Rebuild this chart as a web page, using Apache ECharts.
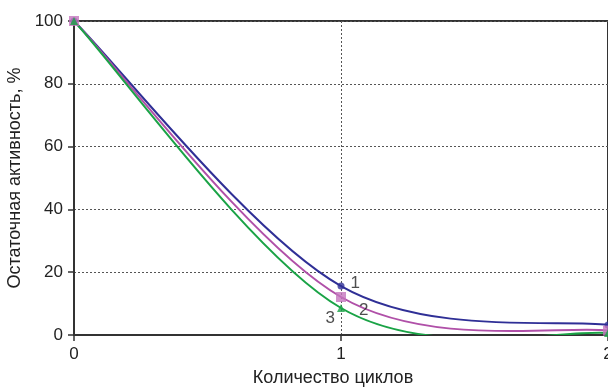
<!DOCTYPE html>
<html><head><meta charset="utf-8">
<script src="https://cdn.jsdelivr.net/npm/echarts@6/dist/echarts.min.js"></script>
<style>html,body{margin:0;padding:0;background:#fff}#c{width:608px;height:387px}</style>
</head><body><div id="c"></div>
<script>
const cycles = [0, 1, 2];
const series1 = [100, 15.6, 3.2];
const series2 = [100, 12.1, 1.4];
const series3 = [100, 8.6, 0.6];
const seriesNames = ['1', '2', '3'];
const yTicks = [0, 20, 40, 60, 80, 100];

const chart = echarts.init(document.getElementById('c'), null, {renderer: 'canvas'});
const font = 'Liberation Sans, Arial, sans-serif';

// Smoothed curve (Catmull-Rom style, like spreadsheet smoothing) through the data, via axis coords
function curve(vals, color) {
  return {
    type: 'custom', clip: true, z: 2, silent: true,
    data: cycles.map((x, i) => [x, vals[i]]),
    encode: {x: 0, y: 1},
    renderItem: function (params, api) {
      const i = params.dataIndex;
      if (i >= cycles.length - 1) return null;
      const P = cycles.map((x, k) => api.coord([x, vals[k]]));
      const p0 = P[Math.max(i - 1, 0)], p1 = P[i], p2 = P[i + 1], p3 = P[Math.min(i + 2, P.length - 1)];
      const c1 = [p1[0] + (p2[0] - p0[0]) / 6, p1[1] + (p2[1] - p0[1]) / 6];
      const c2 = [p2[0] - (p3[0] - p1[0]) / 6, p2[1] - (p3[1] - p1[1]) / 6];
      return {
        type: 'bezierCurve',
        shape: {x1: p1[0], y1: p1[1], x2: p2[0], y2: p2[1], cpx1: c1[0], cpy1: c1[1], cpx2: c2[0], cpy2: c2[1]},
        style: {stroke: color, lineWidth: 2, fill: null}
      };
    }
  };
}
function marks(vals, name, color, symbol, size, labelPos, labelOffset) {
  return {
    name, type: 'scatter', z: 4,
    data: vals.map((v, i) => {
      const d = {value: [cycles[i], v]};
      if (i === 1) d.label = {show: true, formatter: name, position: labelPos, offset: labelOffset,
        color: '#222', fontSize: 17, fontFamily: font};
      return d;
    }),
    symbol, symbolSize: size,
    itemStyle: {color: color}
  };
}
chart.setOption({
  animation: false,
  grid: {left: 74, right: 0, top: 21, bottom: 52, show: true, borderColor: '#333', borderWidth: 2,
         containLabel: false, outerBoundsMode: 'none'},
  xAxis: {
    type: 'value', min: 0, max: 2, interval: 1,
    name: 'Количество циклов', nameLocation: 'middle', nameGap: 34,
    nameTextStyle: {fontSize: 18, color: '#222', fontFamily: font, padding: [0, 16, 0, 0]},
    axisLine: {lineStyle: {color: '#333', width: 2}},
    axisTick: {show: true, length: 6, lineStyle: {color: '#333', width: 1.5}},
    axisLabel: {fontSize: 17, color: '#222', fontFamily: font, margin: 11},
    splitLine: {show: true, lineStyle: {color: '#555', type: [2, 2], width: 1}}
  },
  yAxis: {
    type: 'value', min: 0, max: 100, interval: 20,
    name: 'Остаточная активность, %', nameLocation: 'middle', nameGap: 45,
    nameTextStyle: {fontSize: 18, color: '#222', fontFamily: font},
    axisLine: {show: true, lineStyle: {color: '#333', width: 2}},
    axisTick: {show: true, length: 6, lineStyle: {color: '#333', width: 1.5}},
    axisLabel: {fontSize: 17, color: '#222', fontFamily: font, margin: 11,
      formatter: v => yTicks.includes(v) ? String(v) : ''},
    splitLine: {show: true, lineStyle: {color: '#555', type: [2, 2], width: 1}}
  },
  series: [
    curve(series1, '#2f2f96'),
    curve(series2, '#b050a8'),
    curve(series3, '#1aa346'),
    marks(series1, seriesNames[0], '#2f2f96', 'circle', 7, 'right', [1, -3]),
    marks(series2, seriesNames[1], '#c476be', 'rect', 10, 'right', [8, 13]),
    marks(series3, seriesNames[2], '#1aa346', 'triangle', 8, 'left', [3, 10])
  ]
});
</script></body></html>
